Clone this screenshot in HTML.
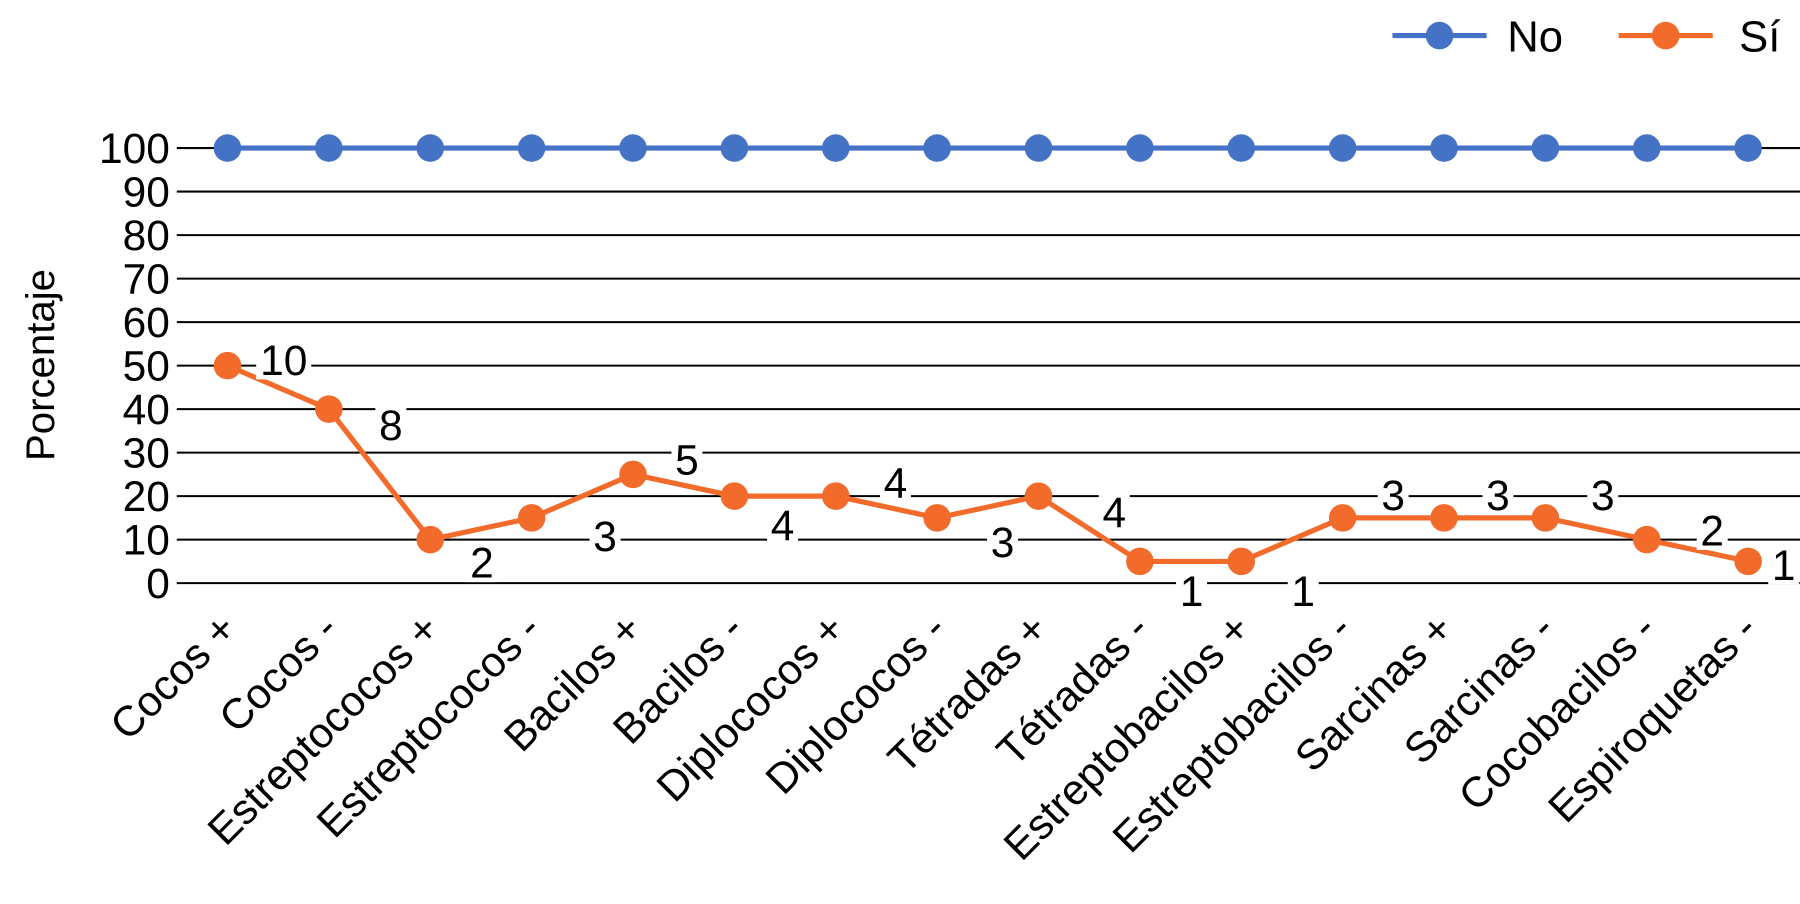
<!DOCTYPE html>
<html><head><meta charset="utf-8"><style>
body{margin:0;background:#fff;}
svg{display:block;font-family:"Liberation Sans",sans-serif;}
</style></head><body>
<svg id="chart" width="1800" height="904" viewBox="0 0 1568 787.5"></svg>
<script>
const categories=["Cocos +","Cocos -","Estreptococos +","Estreptococos -","Bacilos +","Bacilos -","Diplococos +","Diplococos -","Tétradas +","Tétradas -","Estreptobacilos +","Estreptobacilos -","Sarcinas +","Sarcinas -","Cocobacilos -","Espiroquetas -"];
const noValues=[100,100,100,100,100,100,100,100,100,100,100,100,100,100,100,100];
const siValues=[50,40,10,15,25,20,20,15,20,5,5,15,15,15,10,5];
const siCounts=[10,8,2,3,5,4,4,3,4,1,1,3,3,3,2,1];
const yTicks=[0,10,20,30,40,50,60,70,80,90,100];
// label offsets (styling) relative to point
const labOff=[[49,-5],[54,14],[45,20],[64,16],[47,-13],[42,25],[52,-12],[57,21],[66,14],[45,26],[54,26],[44,-20],[47,-20],[50,-20],[57,-8],[31,3]];
const NS="http://www.w3.org/2000/svg";
const svg=document.getElementById('chart');
const x0=154,x1=1567,yTop=129,yBot=508;
const bw=(x1-x0)/categories.length;
const xS=i=>x0+bw*(i+0.5);
const yS=v=>yBot-(v/100)*(yBot-yTop);
function mk(t,a,p){const e=document.createElementNS(NS,t);for(const k in a)e.setAttribute(k,a[k]);(p||svg).appendChild(e);return e;}
yTicks.forEach(t=>{
 const l=mk('line',{x1:x0,x2:x1+2,y1:yS(t),y2:yS(t),stroke:'#000','stroke-width':1.8});
 
 
 const tx=mk('text',{x:148,y:yS(t)+13,'text-anchor':'end','font-size':37,fill:'#000'});
 tx.textContent=t;
 
 
});
const yt=mk('text',{x:0,y:0,transform:'translate(47,318) rotate(-90)','text-anchor':'middle','font-size':35,fill:'#000'});
yt.textContent='Porcentaje';


categories.forEach((c,i)=>{
 const t=mk('text',{x:0,y:0,transform:`translate(${xS(i)+10},${550}) rotate(-45)`,'text-anchor':'end','font-size':37,fill:'#000'});
 t.textContent=c;
 
 
});
function series(vals,color,name){
 const p=mk('polyline',{points:vals.map((v,i)=>xS(i)+','+yS(v)).join(' '),fill:'none',stroke:color,'stroke-width':4.5});
 
 
 vals.forEach((v,i)=>{
  const c=mk('circle',{cx:xS(i),cy:yS(v),r:12,fill:color});
  
  
 });
}
series(noValues,'#4472C4','no');
series(siValues,'#F26B2A','si');
siCounts.forEach((n,i)=>{
 const cx=xS(i)+labOff[i][0],cy=yS(siValues[i])+labOff[i][1];
 const w=String(n).length*21+6;
 mk('rect',{x:cx-w/2,y:cy-17,width:w,height:34,fill:'#fff'});
 const t=mk('text',{x:cx,y:cy+13,'text-anchor':'middle','font-size':37,fill:'#000'});
 t.textContent=n;
 
 
});
[['No','#4472C4',1213,1313],['Sí','#F26B2A',1410,1515]].forEach(([lab,col,lx,tx])=>{
 const g=mk('g',{});
 
 
 mk('line',{x1:lx,x2:lx+82,y1:31,y2:31,stroke:col,'stroke-width':4.5},g);
 mk('circle',{cx:lx+41,cy:31,r:12,fill:col},g);
 const t=mk('text',{x:tx,y:45,'font-size':38,fill:'#000'},g);
 t.textContent=lab;
});
</script>
</body></html>
